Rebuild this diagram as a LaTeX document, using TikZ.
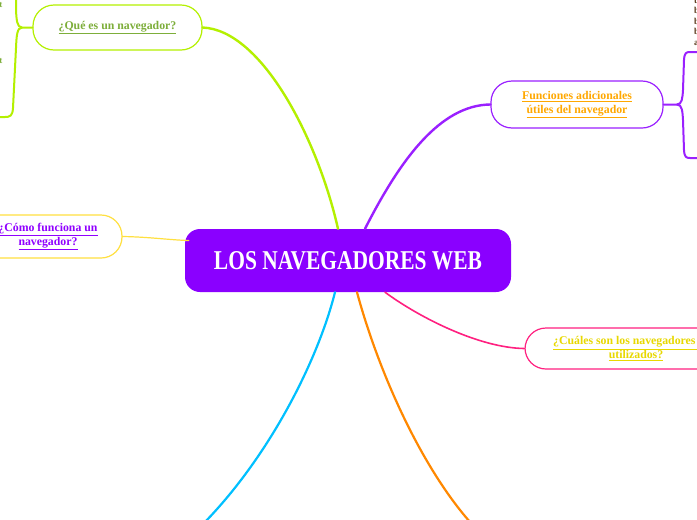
\documentclass[tikz,border=0pt]{standalone}
\usepackage{fontspec}
\setmainfont{Liberation Serif}
\usepackage{graphicx}
\definecolor{cpurple}{HTML}{8A00FF}
\definecolor{lime}{HTML}{B4F000}
\definecolor{olivetxt}{HTML}{7DAE3A}
\definecolor{bpurple}{HTML}{9A20FF}
\definecolor{otxt}{HTML}{FFA800}
\definecolor{yborder}{HTML}{FFE040}
\definecolor{ptxt}{HTML}{9000FF}
\definecolor{pink}{HTML}{FF2080}
\definecolor{ytxt}{HTML}{E8D800}
\definecolor{cblue}{HTML}{00C0FF}
\definecolor{corange}{HTML}{FF8800}
\definecolor{brown}{HTML}{5C3D1E}
\tikzset{
  topic/.style={draw, line width=1.2pt, fill=white, rounded corners=21pt, align=center,
    font=\bfseries\fontsize{11.8}{13.5}\selectfont, inner sep=0pt},
  conn/.style={line width=2pt, line cap=round},
  bracket/.style={line width=2pt, line cap=round, line join=round},
  frag/.style={font=\bfseries\fontsize{9}{10}\selectfont, inner sep=0pt, text=brown},
}
\begin{document}
\begin{tikzpicture}[x=1pt,y=-1pt]
\clip (0,0) rectangle (697,520);
\fill[white] (0,0) rectangle (697,520);

% central node
\node[fill=cpurple, rounded corners=15pt, minimum width=326pt, minimum height=63pt, inner sep=0pt, text=white]
  (c) at (348,260.5) {\resizebox{268pt}{18pt}{\bfseries LOS NAVEGADORES WEB}};

% topic nodes
\node[topic, draw=lime, text=olivetxt, minimum width=169pt, minimum height=45pt] (q) at (117.5,27.5)
  {\underline{¿Qué es un navegador?}};
\node[topic, draw=bpurple, text=otxt, minimum width=172pt, minimum height=47pt] (f) at (577,104.5)
  {\underline{Funciones adicionales}\\\underline{útiles del navegador}};
\node[topic, draw=yborder, text=ptxt, minimum width=148pt, minimum height=43pt] (m) at (48,236.5)
  {\underline{¿Cómo funciona un}\\\underline{navegador?}};
\node[topic, draw=pink, text=ytxt, minimum width=222pt, minimum height=41pt] (u) at (636,348.5)
  {\underline{¿Cuáles son los navegadores más}\\\underline{utilizados?}};

% free ends
\coordinate (bend) at (205,522);
\coordinate (oend) at (470,522);
\coordinate (lt) at (16,-2);
\coordinate (lb) at (-2,117);
\coordinate (rt) at (699,52);
\coordinate (rb) at (699,158);

% connectors from the centre
\draw[conn, lime, line width=2.4pt] ([xshift=-10pt]c.north) .. controls (318,140) and (262,30) .. (q.east);
\draw[conn, bpurple, line width=2.4pt] ([xshift=17pt]c.north) .. controls (400,160) and (440,105) .. (f.west);
\draw[conn, yborder, line width=1.2pt] (m.east) .. controls (150,237) and (170,240) .. ([xshift=4pt,yshift=20pt]c.west);
\draw[conn, pink, line width=1.6pt] ([xshift=37pt]c.south) .. controls (420,318) and (480,348) .. (u.west);
\draw[conn, cblue, line width=2.2pt] ([xshift=-13pt]c.south) .. controls (318,360) and (270,455) .. (bend);
\draw[conn, corange, line width=2.2pt] ([xshift=9pt]c.south) .. controls (378,370) and (420,465) .. (oend);

% left bracket
\draw[bracket, lime] (q.west) -- (22,27.5) .. controls (17,27.5) and (16.5,20) .. (16,10) -- (lt);
\draw[bracket, lime] (22,27.5) .. controls (17,27.5) and (16.5,36) .. (16,48) -- (13,108) .. controls (12.5,116) and (10,117) .. (5,117) -- (lb);

% right bracket
\draw[bracket, bpurple] (f.east) -- (677,104.5) .. controls (682,104.5) and (682.5,98) .. (683,90) -- (684,60) .. controls (684.5,53) and (686,52) .. (690,52) -- (rt);
\draw[bracket, bpurple] (677,104.5) .. controls (682,104.5) and (682.5,111) .. (683,120) -- (684,150) .. controls (684.5,157) and (686,158) .. (690,158) -- (rb);

% cut-off text fragments at the edges (as in the reference)
\node[frag, anchor=base west] (t1) at (694,3) {t};
\node[frag, anchor=base west] (t2) at (694,13.5) {b};
\node[frag, anchor=base west] (t3) at (694,24) {b};
\node[frag, anchor=base west] (t4) at (694,34.5) {b};
\node[frag, anchor=base west] (t5) at (694,45) {a};
\node[frag, text=olivetxt, anchor=base east] (l1) at (2.5,7) {t};
\node[frag, text=olivetxt, anchor=base east] (l2) at (2.5,63) {t};
\end{tikzpicture}
\end{document}
